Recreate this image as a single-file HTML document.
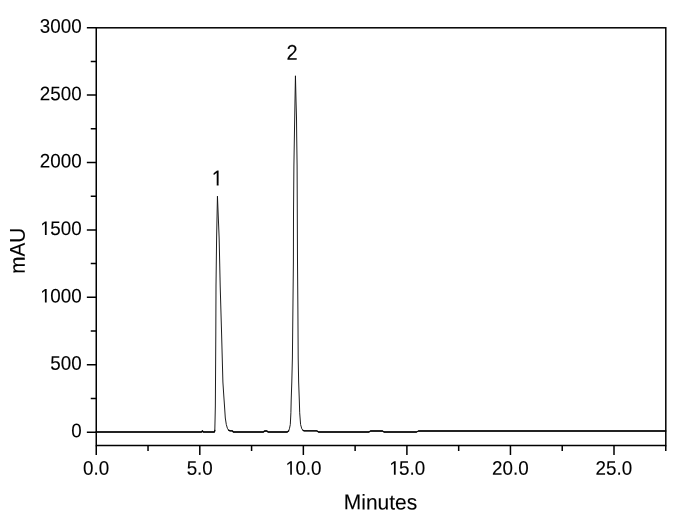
<!DOCTYPE html>
<html lang="en"><head><meta charset="utf-8"><title>Chromatogram</title>
<style>
html,body{margin:0;padding:0;background:#fff;}
body{width:690px;height:524px;overflow:hidden;}
svg{display:block;font-family:"Liberation Sans",Arial,sans-serif;}
text{fill:#000;stroke:#000;stroke-width:0.1px;}
.m{fill:#fff;}
.frame,.ticks{fill:none;stroke:#000;stroke-width:1.5px;}
.trace{fill:none;stroke:#111;stroke-width:0.95px;stroke-linejoin:round;}
.base{fill:none;stroke:#000;stroke-width:1.3px;stroke-linejoin:round;stroke-linecap:round;}
</style></head>
<body>
<svg xmlns="http://www.w3.org/2000/svg" width="690" height="524" viewBox="0 0 690 524">
<rect width="690" height="524" fill="#fff"/>
<rect class="frame" x="96.25" y="27.8" width="569.55" height="417.70"/>
<path class="ticks" d="M96.25 445.5V454.90 M148.03 445.5V451.00 M199.80 445.5V454.90 M251.58 445.5V451.00 M303.35 445.5V454.90 M355.12 445.5V451.00 M406.90 445.5V454.90 M458.68 445.5V451.00 M510.45 445.5V454.90 M562.23 445.5V451.00 M614.00 445.5V454.90 M665.77 445.5V451.00 M96.25 432.15H86.85 M96.25 398.44H90.75 M96.25 364.74H86.85 M96.25 331.03H90.75 M96.25 297.33H86.85 M96.25 263.62H90.75 M96.25 229.92H86.85 M96.25 196.21H90.75 M96.25 162.51H86.85 M96.25 128.81H90.75 M96.25 95.10H86.85 M96.25 61.39H90.75 M96.25 27.69H86.85"/>
<text class="tick-label" transform="translate(96.15,474.85) rotate(0.05) scale(0.96,1)" x="-13.62" y="0" font-size="19.6">0.0</text>
<text class="tick-label" transform="translate(199.70,474.85) rotate(0.05) scale(0.96,1)" x="-13.62" y="0" font-size="19.6">5.0</text>
<text class="tick-label" transform="translate(303.25,474.85) rotate(0.05) scale(0.96,1)" x="-19.07" y="0" dx="0.65 -0.65" font-size="19.6">10.0</text><rect class="m" x="285.00" y="473.00" width="5.00" height="2.00"/><rect class="m" x="290.00" y="473.22" width="0.23" height="1.78"/><rect class="m" x="291.88" y="473.24" width="0.12" height="1.76"/><rect class="m" x="292.00" y="473.00" width="4.00" height="2.00"/>
<text class="tick-label" transform="translate(406.80,474.85) rotate(0.05) scale(0.96,1)" x="-19.07" y="0" dx="0.65 -0.65" font-size="19.6">15.0</text><rect class="m" x="388.00" y="473.00" width="5.00" height="2.00"/><rect class="m" x="393.00" y="473.03" width="0.90" height="1.97"/><rect class="m" x="395.66" y="473.19" width="0.34" height="1.81"/><rect class="m" x="396.00" y="473.00" width="4.00" height="2.00"/>
<text class="tick-label" transform="translate(510.35,474.85) rotate(0.05) scale(0.96,1)" x="-19.07" y="0" font-size="19.6">20.0</text>
<text class="tick-label" transform="translate(613.90,474.85) rotate(0.05) scale(0.96,1)" x="-19.07" y="0" font-size="19.6">25.0</text>
<text class="tick-label" transform="translate(81.60,437.25) rotate(0.05) scale(0.96,1)" x="-10.90" y="0" font-size="19.6">0</text>
<text class="tick-label" transform="translate(81.60,369.84) rotate(0.05) scale(0.96,1)" x="-32.70" y="0" font-size="19.6">500</text>
<text class="tick-label" transform="translate(81.60,302.43) rotate(0.05) scale(0.96,1)" x="-43.60" y="0" dx="0.65 -0.65" font-size="19.6">1000</text><rect class="m" x="39.00" y="301.00" width="5.00" height="2.00"/><rect class="m" x="44.00" y="301.00" width="0.91" height="2.00"/><rect class="m" x="46.66" y="301.00" width="0.34" height="2.00"/><rect class="m" x="47.00" y="301.00" width="4.00" height="2.00"/>
<text class="tick-label" transform="translate(81.60,235.02) rotate(0.05) scale(0.96,1)" x="-43.60" y="0" dx="0.65 -0.65" font-size="19.6">1500</text><rect class="m" x="39.00" y="233.00" width="5.00" height="2.00"/><rect class="m" x="44.00" y="233.09" width="0.91" height="1.91"/><rect class="m" x="46.66" y="233.41" width="0.34" height="1.59"/><rect class="m" x="47.00" y="233.00" width="4.00" height="2.00"/>
<text class="tick-label" transform="translate(81.60,167.61) rotate(0.05) scale(0.96,1)" x="-43.60" y="0" font-size="19.6">2000</text>
<text class="tick-label" transform="translate(81.60,100.20) rotate(0.05) scale(0.96,1)" x="-43.60" y="0" font-size="19.6">2500</text>
<text class="tick-label" transform="translate(81.60,32.79) rotate(0.05) scale(0.96,1)" x="-43.60" y="0" font-size="19.6">3000</text>
<text class="axis-title" transform="translate(380.50,509.40) rotate(0.05) scale(0.98,1)" x="-37.47" y="0" font-size="21.4">Minutes</text>
<text class="axis-title" transform="translate(24.80,250.70) rotate(-90.05) scale(0.97,1)" x="-23.78" y="0" font-size="21.4">mAU</text>
<text class="peak-label" transform="translate(216.80,185.60) rotate(0.05) scale(0.94,1)" x="-5.92" y="0" dx="0.65" font-size="21.3">1</text><rect class="m" x="211.00" y="183.00" width="5.00" height="3.00"/><rect class="m" x="216.00" y="183.47" width="0.71" height="2.53"/><rect class="m" x="218.59" y="183.64" width="0.41" height="2.36"/><rect class="m" x="219.00" y="183.00" width="4.00" height="3.00"/>
<text class="peak-label" transform="translate(292.00,59.80) rotate(0.05) scale(0.94,1)" x="-5.92" y="0" font-size="21.3">2</text>
<path class="trace" d="M96.00 432.00 L201.50 432.00 L202.40 430.80 L203.30 432.00 L214.40 432.00 L214.80 430.50 L215.05 420.00 L215.35 406.00 L215.50 382.00 L215.80 334.00 L216.00 286.00 L216.60 238.00 L217.45 196.20 L219.15 238.00 L220.20 286.00 L221.60 334.00 L222.90 382.00 L223.80 396.00 L224.50 406.00 L225.30 418.00 L226.30 424.50 L227.40 428.30 L228.60 430.20 L230.00 430.80 L232.50 430.90 L233.20 432.00 L263.50 432.00 L264.50 431.00 L267.00 431.00 L268.00 432.00 L287.20 432.00 L288.60 431.00 L289.40 428.80 L290.30 424.60 L290.90 412.80 L291.20 400.00 L291.80 382.00 L292.40 358.00 L292.90 310.00 L293.40 262.00 L293.50 214.00 L293.90 166.00 L294.40 136.00 L294.70 118.00 L295.00 100.00 L295.45 75.80 L296.00 100.00 L296.50 118.00 L296.70 136.00 L297.10 166.00 L297.30 214.00 L297.50 262.00 L297.90 310.00 L298.20 358.00 L298.65 382.00 L299.30 400.00 L299.70 412.80 L300.60 424.60 L301.80 428.80 L303.00 430.30 L304.20 430.80 L317.00 430.90 L318.50 432.00 L369.00 432.00 L370.50 431.00 L382.50 431.00 L384.00 432.00 L416.50 432.00 L418.50 431.00 L665.80 431.00"/>
<path class="base" d="M96.00 432.00 L201.50 432.00 L202.40 430.80 L203.30 432.00 L214.40 432.00 L214.80 430.50 M228.60 430.20 L230.00 430.80 L232.50 430.90 L233.20 432.00 L263.50 432.00 L264.50 431.00 L267.00 431.00 L268.00 432.00 L287.20 432.00 L288.60 431.00 M303.00 430.30 L304.20 430.80 L317.00 430.90 L318.50 432.00 L369.00 432.00 L370.50 431.00 L382.50 431.00 L384.00 432.00 L416.50 432.00 L418.50 431.00 L665.80 431.00"/>
</svg>
</body></html>
